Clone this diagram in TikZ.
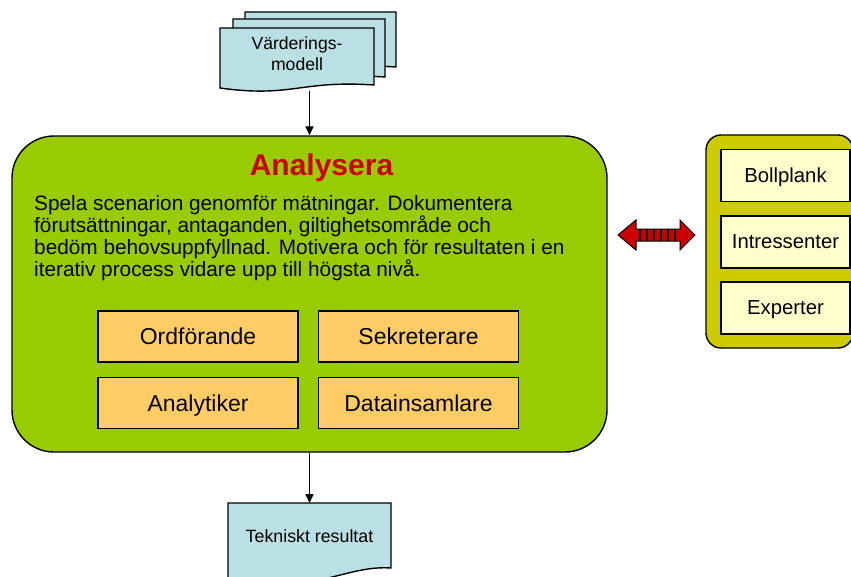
\documentclass[tikz,border=0pt]{standalone}
\usepackage{fontspec}
\setmainfont{Liberation Sans}
\usetikzlibrary{arrows.meta}

\definecolor{leaf}{HTML}{99CC00}
\definecolor{olivefill}{HTML}{CCCC00}
\definecolor{peach}{HTML}{FFCC66}
\definecolor{cream}{HTML}{FFFFCC}
\definecolor{paper}{HTML}{BBE0E3}
\definecolor{signal}{HTML}{CC0000}

\begin{document}
\begin{tikzpicture}[x=1pt,y=-1pt,
  outline/.style={draw=black,line width=1.4pt},
  rolebox/.style={outline,fill=peach,minimum width=200pt,minimum height=51pt,
    inner sep=0pt,text depth=0pt,font=\fontsize{23}{26}\selectfont},
  sidebox/.style={outline,fill=cream,minimum width=129pt,minimum height=52pt,
    inner sep=0pt,text depth=0pt,font=\fontsize{20.3}{24}\selectfont},
  docsheet/.style={outline,fill=paper},
  flow/.style={draw=black,line width=1.5pt,-{Triangle[length=9pt,width=8pt]}}]
\useasboundingbox (0,0) rectangle (851,576);
\clip (0,0) rectangle (851,576);

% stacked input documents
\filldraw[docsheet] (245,12) -- (396,12) -- (396,67)
  .. controls (322,62) and (314,80) .. (245,70) -- cycle;
\filldraw[docsheet] (233,19) -- (385,19) -- (385,77)
  .. controls (311,72) and (303,90) .. (233,80) -- cycle;
\filldraw[docsheet] (220,28) -- (374,28) -- (374,85)
  .. controls (300,80) and (292,98) .. (220,88) -- cycle;
\node[align=center,inner sep=0pt,font=\fontsize{17.6}{21}\selectfont] (model) at (297,54)
  {Värderings-\\modell};
\coordinate (modelfoot) at (309.5,91);

% main activity block
\node[outline,fill=leaf,rounded corners=42pt,minimum width=595pt,minimum height=316pt] (main)
  at (309.5,294) {};
\node[anchor=base,text=signal,inner sep=0pt,font=\bfseries\fontsize{30}{34}\selectfont] (title)
  at (321.5,175) {Analysera};
\node[anchor=north west,align=left,inner sep=0pt,font=\fontsize{20.8}{22.3}\selectfont] (desc)
  at (34,194.8)
  {Spela scenarion genomför mätningar. Dokumentera\\
   förutsättningar, antaganden, giltighetsområde och\\
   bedöm behovsuppfyllnad. Motivera och för resultaten i en\\
   iterativ process vidare upp till högsta nivå.};

\node[rolebox] (chair) at (198,336.5) {Ordförande};
\node[rolebox] (secr) at (418.5,336.5) {Sekreterare};
\node[rolebox] (analyst) at (198,403) {Analytiker};
\node[rolebox] (collector) at (418.5,403) {Datainsamlare};

% output document
\filldraw[docsheet] (228,503) -- (391,503) -- (391,568)
  .. controls (350,565) and (320,590) .. (228,590) -- cycle;
\node[anchor=base,inner sep=0pt,font=\fontsize{17.8}{22}\selectfont] (result) at (309.5,542)
  {Tekniskt resultat};
\coordinate (resulttop) at (309.5,503);

\draw[flow] (modelfoot) -- (main.north);
\draw[flow] (main.south) -- (resulttop);

% support panel
\node[outline,fill=olivefill,rounded corners=15pt,minimum width=147pt,minimum height=213pt] (panel)
  at (779.5,241.5) {};
\node[sidebox] (sounding) at (785.5,175.5) {Bollplank};
\node[sidebox] (stake) at (785.5,242) {Intressenter};
\node[sidebox] (experts) at (785.5,308) {Experter};

% two-way exchange arrow
\coordinate (xl) at (618,235);
\coordinate (xr) at (695,235);
\filldraw[fill=signal,draw=black,line width=1pt,line join=miter]
  (xl) -- (636,220) -- (636,229) -- (680,229) -- (680,220) -- (xr)
  -- (680,250) -- (680,241) -- (636,241) -- (636,250) -- cycle;
\foreach \sx in {640,647,654,661,668,675}
  \draw[black,line width=1.3pt] (\sx,229) -- (\sx,241);
\end{tikzpicture}
\end{document}
